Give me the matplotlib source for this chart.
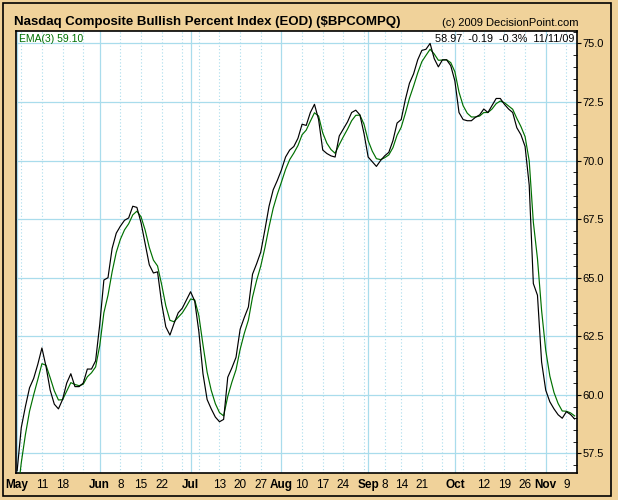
import matplotlib
matplotlib.use("Agg")
import matplotlib.pyplot as plt
from matplotlib.patches import Rectangle
from matplotlib.ticker import MultipleLocator, FormatStrFormatter
import numpy as np
import pandas as pd

plt.rcParams["font.family"] = ["Liberation Sans", "DejaVu Sans"]

# trading days May 1 - Nov 11 2009 (market holidays dropped)
holidays = ["2009-05-25", "2009-07-03", "2009-09-07"]
days = pd.bdate_range("2009-05-01", "2009-11-11").drop(pd.to_datetime(holidays))

# $BPCOMPQ close
bpi = [56.76, 58.6, 59.5, 60.3, 60.7, 61.3, 62.0, 61.2, 60.2, 59.6,
       59.4, 59.8, 60.5, 60.9, 60.35, 60.35, 60.5, 61.1, 61.1, 61.45,
       63.0, 64.9, 65.0, 66.25, 66.9, 67.2, 67.45, 67.55, 68.05, 68.0,
       67.35, 66.45, 65.55, 65.2, 65.25, 63.9, 62.9, 62.55, 63.05, 63.5,
       63.7, 64.05, 64.4, 64.0, 62.7, 60.9, 59.8, 59.4, 59.05, 58.85,
       58.95, 60.75, 61.15, 61.6, 62.8, 63.3, 63.75, 65.15, 65.6, 66.1,
       67.05, 68.05, 68.75, 69.15, 69.6, 70.15, 70.45, 70.6, 70.95, 71.55,
       71.5, 72.05, 72.4, 71.75, 70.45, 70.3, 70.2, 70.15, 71.05, 71.35,
       71.65, 72.05, 72.15, 71.95, 71.15, 70.15, 69.95, 69.75, 70.0, 70.2,
       70.35, 70.85, 71.6, 71.75, 72.6, 73.3, 73.7, 74.3, 74.7, 74.75,
       75.0, 74.35, 74.0, 74.3, 74.3, 74.05, 73.4, 72.05, 71.75, 71.7,
       71.7, 71.85, 71.95, 72.2, 72.05, 72.35, 72.65, 72.65, 72.4, 72.2,
       72.05, 71.4, 71.1, 70.6, 68.95, 64.75, 64.25, 61.4, 60.2, 59.7,
       59.4, 59.15, 59.0, 59.28, 59.16, 58.97]

# EMA(3) line
ema3 = [55.6, 57.1, 58.3, 59.3, 60.0, 60.65, 61.33, 61.26, 60.73, 60.17,
        59.78, 59.79, 60.15, 60.52, 60.44, 60.39, 60.45, 60.77, 60.94, 61.19,
        62.1, 63.5, 64.25, 65.25, 66.08, 66.64, 67.04, 67.3, 67.68, 67.84,
        67.6, 67.03, 66.29, 65.75, 65.5, 64.7, 63.8, 63.18, 63.12, 63.31,
        63.5, 63.78, 64.09, 64.05, 63.38, 62.14, 60.97, 60.19, 59.62, 59.24,
        59.1, 59.93, 60.54, 61.07, 61.94, 62.62, 63.19, 64.17, 64.89, 65.5,
        66.28, 67.17, 67.96, 68.56, 69.08, 69.62, 70.04, 70.32, 70.64, 71.1,
        71.3, 71.68, 72.04, 71.9, 71.18, 70.74, 70.47, 70.31, 70.68, 71.02,
        71.34, 71.7, 71.93, 71.94, 71.55, 70.85, 70.4, 70.08, 70.04, 70.12,
        70.24, 70.55, 71.08, 71.42, 72.01, 72.66, 73.18, 73.74, 74.22, 74.49,
        74.75, 74.55, 74.28, 74.29, 74.3, 74.18, 73.79, 72.92, 72.34, 72.02,
        71.86, 71.86, 71.9, 72.05, 72.05, 72.2, 72.43, 72.54, 72.47, 72.33,
        72.19, 71.8, 71.45, 71.02, 69.99, 67.37, 65.81, 63.6, 61.9, 60.8,
        60.1, 59.63, 59.31, 59.3, 59.23, 59.1]

month_days = ["2009-05-01", "2009-06-01", "2009-07-01", "2009-08-03",
              "2009-09-01", "2009-10-01", "2009-11-02"]
month_labels = ["May", "Jun", "Jul", "Aug", "Sep", "Oct", "Nov"]
week_days = ["2009-05-04", "2009-05-11", "2009-05-18", "2009-05-26",
             "2009-06-08", "2009-06-15", "2009-06-22", "2009-06-29",
             "2009-07-06", "2009-07-13", "2009-07-20", "2009-07-27",
             "2009-08-10", "2009-08-17", "2009-08-24", "2009-08-31",
             "2009-09-08", "2009-09-14", "2009-09-21", "2009-09-28",
             "2009-10-05", "2009-10-12", "2009-10-19", "2009-10-26",
             "2009-11-09"]
week_labels = ["", "11", "18", "", "8", "15", "22", "", "", "13", "20", "27",
               "10", "17", "24", "", "8", "14", "21", "", "", "12", "19", "26", "9"]

x = np.arange(len(days))
pos = {d: i for i, d in enumerate(days)}
month_x = [pos[pd.Timestamp(d)] for d in month_days]
week_x = [pos[pd.Timestamp(d)] for d in week_days]

bg = "#F0D29A"
grid_c = "#A9DCEC"

fig = plt.figure(figsize=(6.18, 5.0), dpi=100, facecolor=bg)
ax = fig.add_axes([15.7 / 618, 26.7 / 500, 561 / 618, 442.3 / 500])
ax.set_facecolor("white")

ax.plot(x, ema3, color="#007000", lw=0.85, zorder=3)
ax.plot(x, bpi, color="black", lw=0.85, zorder=4)

ax.set_xlim(-0.35, 135.5)
ax.set_ylim(56.65, 75.53)

ax.set_xticks(month_x, month_labels, fontweight="bold", fontsize=8.5)
ax.set_xticks(week_x, week_labels, minor=True, fontsize=8.5)
ax.tick_params(axis="x", which="both", length=0, pad=4)

ax.yaxis.tick_right()
ax.yaxis.set_major_locator(MultipleLocator(2.5))
ax.yaxis.set_minor_locator(MultipleLocator(0.5))
ax.yaxis.set_major_formatter(FormatStrFormatter("%.1f"))
ax.tick_params(axis="y", which="major", direction="out", length=3, labelsize=8, pad=1)
ax.tick_params(axis="y", which="minor", direction="in", length=3)

ax.grid(True, axis="y", which="major", color=grid_c, lw=0.9, zorder=0)
ax.grid(True, axis="x", which="major", color=grid_c, lw=0.9, zorder=0)
ax.grid(True, axis="x", which="minor", color=grid_c, lw=0.8, linestyle=(0, (1, 2)), zorder=0)
ax.set_axisbelow(True)

for s in ax.spines.values():
    s.set_linewidth(1.2)
    s.set_color("black")

fig.text(14 / 618, 1 - 22 / 500, "Nasdaq Composite Bullish Percent Index (EOD) ($BPCOMPQ)",
         fontsize=9.5, fontweight="bold", va="center", ha="left")
fig.text(578 / 618, 1 - 23 / 500, "(c) 2009 DecisionPoint.com",
         fontsize=8, va="center", ha="right")
ax.text(0.005, 0.982, "EMA(3) 59.10", transform=ax.transAxes, color="#007000",
        fontsize=7.5, va="center", ha="left")
ax.text(0.995, 0.982, "58.97  -0.19  -0.3%  11/11/09", transform=ax.transAxes,
        color="black", fontsize=7.8, va="center", ha="right")

fig.add_artist(Rectangle((3 / 618, 4 / 500), 608 / 618, 493 / 500,
                         transform=fig.transFigure, fill=False, ec="black", lw=1.2))

fig.savefig("out.png", dpi=100, facecolor=bg)
